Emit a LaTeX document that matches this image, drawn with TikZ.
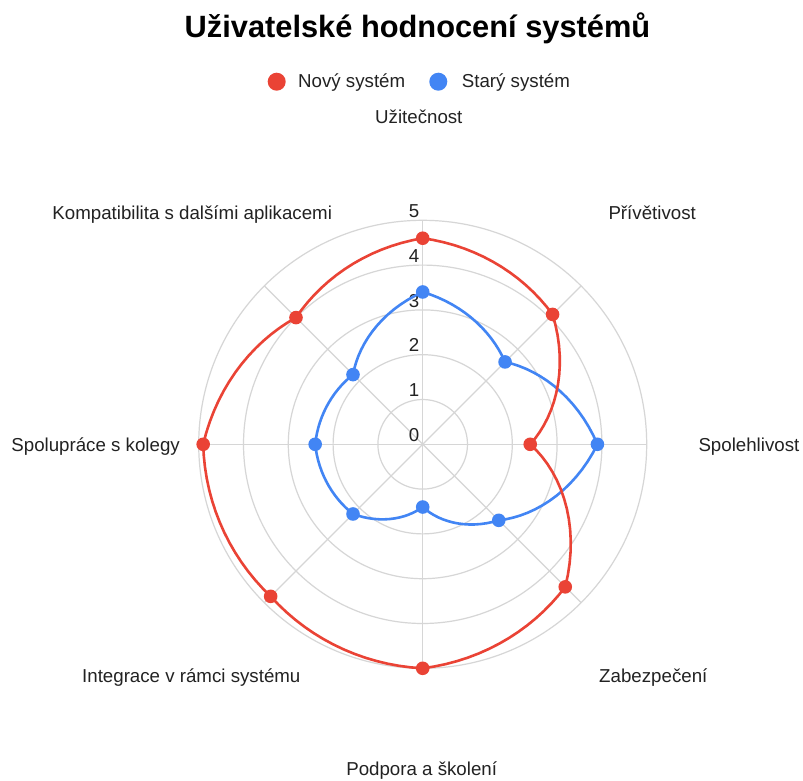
\documentclass[tikz,border=0pt]{standalone}
\usepackage{fontspec}
\setmainfont{Liberation Sans}
\definecolor{nred}{HTML}{EA4335}
\definecolor{sblue}{HTML}{4285F4}
\definecolor{gridc}{HTML}{D6D6D6}
\definecolor{txt}{HTML}{222222}
\begin{document}
\begin{tikzpicture}[x=1pt,y=1pt,
  lbl/.style={font=\fontsize{18.7}{22}\selectfont, inner sep=0pt, text=txt},
  gridline/.style={draw=gridc, line width=1.2pt},
  series/.style={line width=2.6pt, line join=round},
  mk/.style={circle, inner sep=0pt, minimum size=13.6pt, fill=#1, draw=none},
  ]
\useasboundingbox[fill=white] (0,0) rectangle (803,780);
% title
\node[font=\bfseries\fontsize{30.8}{36}\selectfont, anchor=base, inner sep=0pt, text=black] (title) at (417.5,742.7) {Uživatelské hodnocení systémů};
% legend
\node[mk=nred, minimum size=18pt] (legr) at (276.7,698.3) {};
\node[lbl, anchor=base west] (legrt) at (298,692.7) {Nový systém};
\node[mk=sblue, minimum size=18pt] (legb) at (438.3,698.3) {};
\node[lbl, anchor=base west] (legbt) at (461.7,692.7) {Starý systém};
% axis labels
\node[lbl, anchor=base] (l0) at (418.8,656.7) {Užitečnost};
\node[lbl, anchor=base west] (l1) at (608.3,560) {Přívětivost};
\node[lbl, anchor=base west] (l2) at (698.3,328.3) {Spolehlivost};
\node[lbl, anchor=base] (l3) at (653.3,97.3) {Zabezpečení};
\node[lbl, anchor=base] (l4) at (421.7,5) {Podpora a školení};
\node[lbl, anchor=base] (l5) at (191.3,97.3) {Integrace v rámci systému};
\node[lbl, anchor=base east] (l6) at (180,328.3) {Spolupráce s kolegy};
\node[lbl, anchor=base] (l7) at (192.2,560) {Kompatibilita s dalšími aplikacemi};
\begin{scope}[shift={(422.7,335.7)}]
  \foreach \k in {1,...,5} \draw[gridline] (0,0) circle ({44.8*\k});
  \foreach \a in {0,45,...,315} \draw[gridline] (0,0) -- (\a:224);
  \foreach \k in {0,...,5} \node[lbl, anchor=east] (t\k) at (-3.2,{44.8*\k+9.3}) {\k};
  % old system
  \draw[series, sblue] (90:{3.4*44.8})
    \foreach \a/\b [count=\i from 0] in {3.4/2.6,2.6/3.9,3.9/2.4,2.4/1.4,1.4/2.2,2.2/2.4,2.4/2.2,2.2/3.4}
    { -- plot[domain=0:1, samples=16, variable=\t] ({90-45*(\i+\t)}:{(\a+(\b-\a)*\t)*44.8}) } -- cycle;
  \foreach \v [count=\i from 0] in {3.4,2.6,3.9,2.4,1.4,2.2,2.4,2.2}
    \node[mk=sblue] (b\i) at ({90-45*\i}:{\v*44.8}) {};
  % new system
  \draw[series, nred] (90:{4.6*44.8})
    \foreach \a/\b [count=\i from 0] in {4.6/4.1,4.1/2.4,2.4/4.5,4.5/5.0,5.0/4.8,4.8/4.9,4.9/4.0,4.0/4.6}
    { -- plot[domain=0:1, samples=16, variable=\t] ({90-45*(\i+\t)}:{(\a+(\b-\a)*\t)*44.8}) } -- cycle;
  \foreach \v [count=\i from 0] in {4.6,4.1,2.4,4.5,5.0,4.8,4.9,4.0}
    \node[mk=nred] (r\i) at ({90-45*\i}:{\v*44.8}) {};
\end{scope}
\end{tikzpicture}
\end{document}
